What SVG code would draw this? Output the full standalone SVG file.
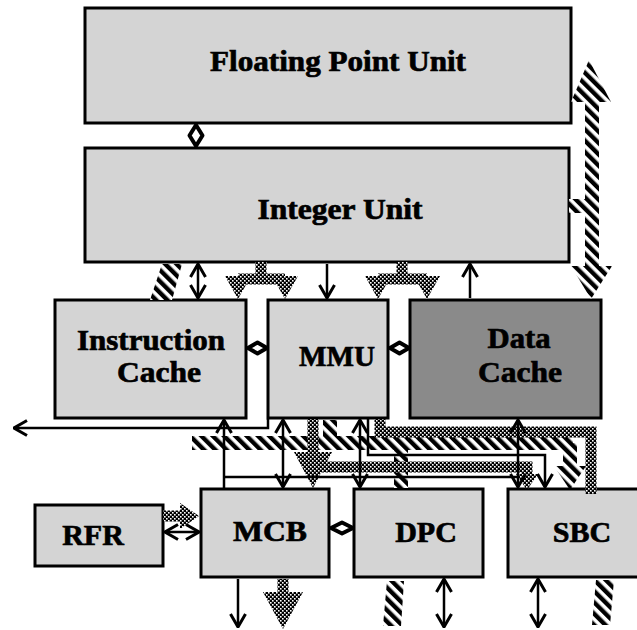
<svg xmlns="http://www.w3.org/2000/svg" width="637" height="630" viewBox="0 0 637 630">
<defs>
<pattern id="hatch" patternUnits="userSpaceOnUse" width="8" height="8" patternTransform="rotate(-45)"><rect width="8" height="8" fill="#fff"/><rect width="4.4" height="8" fill="#000"/></pattern>
<pattern id="dots" patternUnits="userSpaceOnUse" width="4" height="4"><rect width="4" height="4" fill="#000"/><rect x="0" y="0" width="1.6" height="1.6" fill="#fff"/><rect x="2" y="2" width="1.6" height="1.6" fill="#fff"/></pattern>
<marker id="ah" viewBox="0 0 16 18" refX="15" refY="9" markerWidth="16" markerHeight="18" markerUnits="userSpaceOnUse" orient="auto-start-reverse"><path d="M2,1.5 L15,9 L2,16.5" fill="none" stroke="#000" stroke-width="3"/></marker>
</defs>
<style>
.box{stroke:#000;stroke-width:3}
.lt{fill:#d4d4d4}
.dk{fill:#8a8a8a}
.lbl{font-family:"Liberation Serif","Times New Roman",serif;font-weight:bold;font-size:30px;text-anchor:middle;fill:#000;stroke:#000;stroke-width:0.7}
.ln{fill:none;stroke:#000;stroke-width:2.5}
.a2{marker-start:url(#ah);marker-end:url(#ah)}
.a1{marker-end:url(#ah)}
.dia{fill:#fff;stroke:#000;stroke-width:4;stroke-linejoin:round}
.hb{fill:none;stroke:url(#hatch);stroke-width:14}
.db{fill:none;stroke:url(#dots);stroke-width:11}
.dh{fill:url(#dots)}
.hh{fill:url(#hatch)}
</style>
<rect width="637" height="630" fill="#fff"/>
<g id="fpu"><rect class="box lt" x="85" y="8" width="486" height="115"/><text class="lbl" x="338" y="71" textLength="256" lengthAdjust="spacingAndGlyphs">Floating Point Unit</text></g>
<g id="iu"><rect class="box lt" x="85" y="148" width="484" height="114"/><text class="lbl" x="340" y="219" textLength="165" lengthAdjust="spacingAndGlyphs">Integer Unit</text></g>
<g id="icache"><rect class="box lt" x="55" y="300" width="191" height="118"/><text class="lbl" x="151" y="350" textLength="148" lengthAdjust="spacingAndGlyphs">Instruction</text><text class="lbl" x="159" y="382" textLength="84" lengthAdjust="spacingAndGlyphs">Cache</text></g>
<g id="mmu"><rect class="box lt" x="268" y="300" width="120" height="118"/><text class="lbl" x="337" y="366" textLength="76" lengthAdjust="spacingAndGlyphs">MMU</text></g>
<g id="dcache"><rect class="box dk" x="410" y="300" width="191" height="118"/><text class="lbl" x="519" y="348" textLength="63" lengthAdjust="spacingAndGlyphs">Data</text><text class="lbl" x="520" y="382" textLength="84" lengthAdjust="spacingAndGlyphs">Cache</text></g>
<g id="rfr"><rect class="box lt" x="35" y="505" width="128" height="61"/><text class="lbl" x="93" y="545">RFR</text></g>
<g id="mcb"><rect class="box lt" x="201" y="489" width="128" height="88"/><text class="lbl" x="270" y="541" textLength="74" lengthAdjust="spacingAndGlyphs">MCB</text></g>
<g id="dpc"><rect class="box lt" x="354" y="489" width="129" height="88"/><text class="lbl" x="426" y="542">DPC</text></g>
<g id="sbc"><rect class="box lt" x="508" y="489" width="140" height="88"/><text class="lbl" x="582" y="542">SBC</text></g>
<g id="connectors">
<path class="hb" d="M192,443 H573 M330,420 V443 M401,443 V488 M570,443 V472"/>
<polygon class="hh" points="554,466 586,466 570,490"/>
<polygon class="hh" points="162,264 182,264 172,300 150,300"/>
<polygon class="hh" points="387,581 404,581 401,626 383,626"/>
<polygon class="hh" points="596,580 614,580 610,625 592,625"/>
<path class="hb" d="M592,92 V270 M569,206 H592"/>
<polygon class="hh" points="571,102 611,102 589,60"/>
<polygon class="hh" points="571,266 612,266 591,299"/>
<path class="db" d="M261,262 V279 M238,279 H285 M402,262 V279 M378,279 H427"/>
<polygon class="dh" points="225,276 251,276 238,299"/>
<polygon class="dh" points="272,276 298,276 285,299"/>
<polygon class="dh" points="365,276 391,276 378,299"/>
<polygon class="dh" points="414,276 440,276 427,299"/>
<path class="db" d="M380,419 V432 H591 V494"/>
<path class="db" d="M313,419 V470 M313,467 H527 V476"/>
<polygon class="dh" points="294,452 332,452 313,488"/>
<polygon class="dh" points="516,474 538,474 527,490"/>
<path class="db" d="M283,579 V598 M163,516 H182"/>
<polygon class="dh" points="263,592 303,592 283,629"/>
<polygon class="dh" points="180,503 180,529 199,516"/>
<path class="ln a2" d="M198,264 V298"/>
<path class="ln a1" d="M327,264 V298"/>
<path class="ln a1" d="M470,298 V264"/>
<path class="ln a1" d="M268,419 V428 H14"/>
<path class="ln a1" d="M224,489 V420"/>
<path class="ln" d="M224,477 H518"/>
<path class="ln a2" d="M283,420 V487"/>
<path class="ln a2" d="M360,420 V487"/>
<path class="ln a1" d="M368,419 V455 H545 V487"/>
<path class="ln a2" d="M518,420 V487"/>
<path class="ln a2" d="M165,532 H199"/>
<path class="ln a1" d="M238,579 V627"/>
<path class="ln a2" d="M444,579 V627"/>
<path class="ln a2" d="M538,579 V627"/>
<polygon class="dia" points="196,125 202.5,135.5 196,146 189.5,135.5"/>
<polygon class="dia" points="248,348 257.5,342.5 267,348 257.5,353.5"/>
<polygon class="dia" points="390,348 399.5,342.5 409,348 399.5,353.5"/>
<polygon class="dia" points="331,528 342,522.5 353,528 342,533.5"/>
</g>
</svg>
